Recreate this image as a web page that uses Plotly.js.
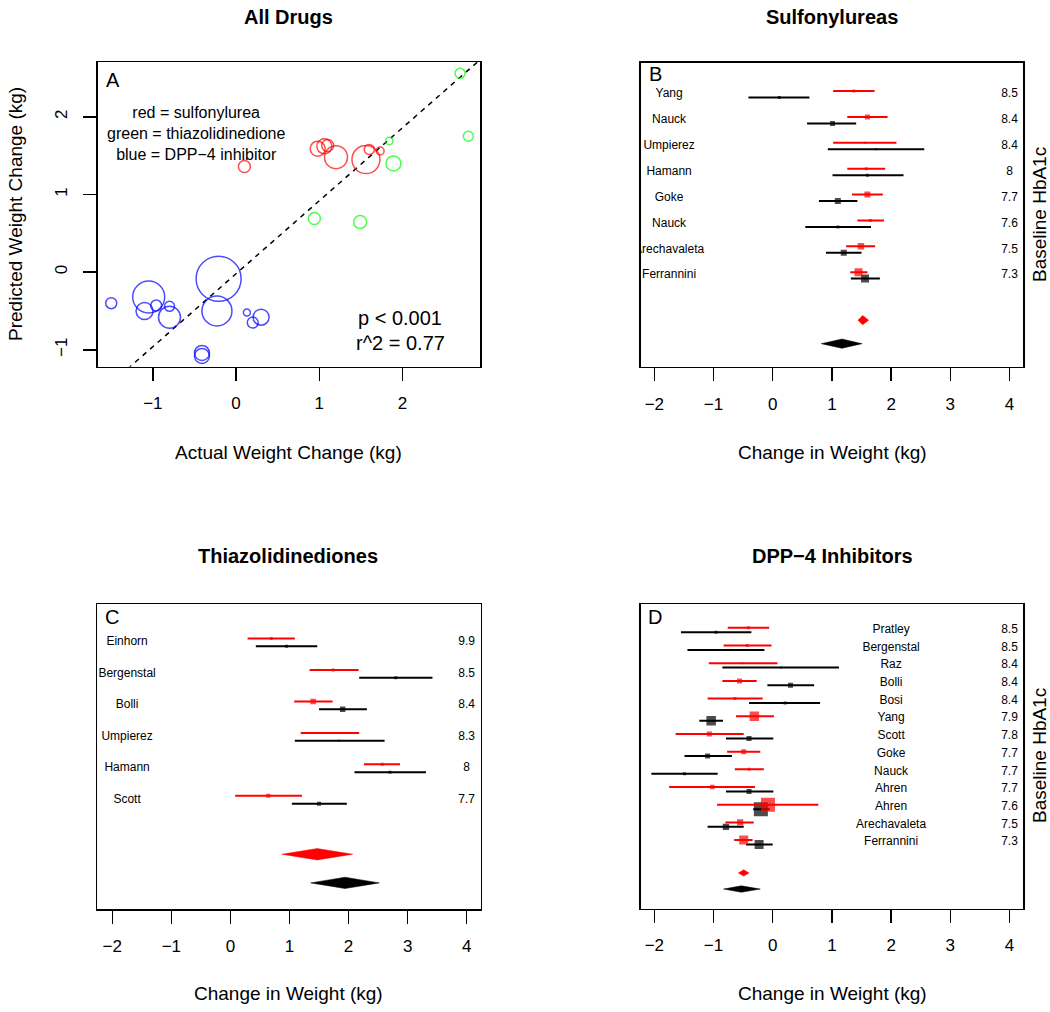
<!DOCTYPE html>
<html>
<head>
<meta charset="utf-8">
<script src="https://cdn.plot.ly/plotly-3.0.1.min.js"></script>
<style>
html,body{margin:0;padding:0;background:#fff;}
#chart{width:1050px;height:1012px;}
</style>
</head>
<body>
<div id="chart"></div>
<script>
// ---------------- Panel A: All drugs (actual vs predicted weight change) ----------------
const sulfActual    = [0.10, 0.98, 1.06, 1.10, 1.20, 1.56, 1.60, 1.73];
const sulfPredicted = [1.36, 1.59, 1.62, 1.63, 1.48, 1.45, 1.58, 1.56];
const sulfWeight    = [12, 15, 15, 12, 23, 28, 10, 8];

const tzdActual     = [2.69, 2.79, 1.84, 1.89, 0.94, 1.49];
const tzdPredicted  = [2.56, 1.75, 1.69, 1.40, 0.69, 0.645];
const tzdWeight     = [10, 10, 7.5, 15, 12, 13];

const dppActual     = [-1.50, -1.05, -1.10, -0.96, -0.80, -0.80, -0.21, -0.23, -0.41, -0.41, 0.13, 0.20, 0.30];
const dppPredicted  = [-0.40, -0.32, -0.50, -0.43, -0.44, -0.58, -0.085, -0.50, -1.04, -1.08, -0.52, -0.65, -0.58];
const dppWeight     = [11, 32, 17, 11, 10, 22, 45, 30, 15, 15, 7, 11, 16];

const fitIntercept = -0.02;
const fitSlope = 0.94;
const statsLines = ["p < 0.001", "r^2 = 0.77"];
const colorKey = ["red = sulfonylurea", "green = thiazolidinedione", "blue = DPP\u22124 inhibitor"];

// ---------------- Panel B: Sulfonylureas ----------------
const suStudies = ["Yang","Nauck","Umpierez","Hamann","Goke","Nauck","Arechavaleta","Ferrannini"];
const suHbA1c   = ["8.5","8.4","8.4","8","7.7","7.6","7.5","7.3"];
const suRedEst  = [1.37, 1.60, 1.56, 1.58, 1.60, 1.65, 1.49, 1.45];
const suRedLo   = [1.02, 1.26, 1.02, 1.26, 1.34, 1.43, 1.24, 1.31];
const suRedHi   = [1.72, 1.94, 2.09, 1.90, 1.86, 1.88, 1.73, 1.60];
const suRedSize = [3, 5, 2, 3, 6, 3, 6.5, 8];
const suBlkEst  = [0.11, 1.01, 1.74, 1.60, 1.10, 1.10, 1.20, 1.56];
const suBlkLo   = [-0.41, 0.58, 0.93, 1.01, 0.78, 0.55, 0.90, 1.32];
const suBlkHi   = [0.62, 1.41, 2.56, 2.21, 1.43, 1.66, 1.50, 1.81];
const suBlkSize = [3, 5, 2, 3, 6, 3, 6, 8];
const suPooledRed = [1.44, 1.52, 1.62];   // lo, est, hi
const suPooledBlk = [0.82, 1.17, 1.51];

// ---------------- Panel C: Thiazolidinediones ----------------
const tzStudies = ["Einhorn","Bergenstal","Bolli","Umpierez","Hamann","Scott"];
const tzHbA1c   = ["9.9","8.5","8.4","8.3","8","7.7"];
const tzRedEst  = [0.69, 1.74, 1.40, 1.69, 2.57, 0.64];
const tzRedLo   = [0.29, 1.34, 1.08, 1.19, 2.26, 0.08];
const tzRedHi   = [1.09, 2.17, 1.73, 2.18, 2.87, 1.21];
const tzRedSize = [3, 3, 5.5, 2, 3, 4];
const tzBlkEst  = [0.95, 2.80, 1.90, 1.84, 2.70, 1.50];
const tzBlkLo   = [0.43, 2.18, 1.50, 1.09, 2.10, 1.04];
const tzBlkHi   = [1.47, 3.42, 2.31, 2.61, 3.31, 1.97];
const tzBlkSize = [3, 3, 5.5, 2, 3, 4];
const tzPooledRed = [0.87, 1.47, 2.07];
const tzPooledBlk = [1.36, 1.94, 2.52];

// ---------------- Panel D: DPP-4 inhibitors ----------------
const dpStudies = ["Pratley","Bergenstal","Raz","Bolli","Bosi","Yang","Scott","Goke","Nauck","Ahren","Ahren","Arechavaleta","Ferrannini"];
const dpHbA1c   = ["8.5","8.5","8.4","8.4","8.4","7.9","7.8","7.7","7.7","7.7","7.6","7.5","7.3"];
const dpRedEst  = [-0.41, -0.43, -0.51, -0.56, -0.64, -0.31, -1.07, -0.49, -0.40, -1.02, -0.08, -0.55, -0.49];
const dpRedLo   = [-0.76, -0.83, -1.08, -0.85, -1.10, -0.62, -1.64, -0.77, -0.64, -1.75, -0.94, -0.80, -0.65];
const dpRedHi   = [-0.06, -0.02, 0.08, -0.27, -0.17, 0.02, -0.49, -0.21, -0.15, -0.30, 0.77, -0.32, -0.34];
const dpRedSize = [3, 3, 2, 5, 3, 9.5, 5, 5, 3, 4.5, 14, 6.3, 9];
const dpBlkEst  = [-0.96, -0.79, 0.14, 0.30, 0.21, -1.04, -0.40, -1.10, -1.49, -0.40, -0.20, -0.79, -0.23];
const dpBlkLo   = [-1.55, -1.44, -0.85, -0.09, -0.40, -1.24, -0.79, -1.49, -2.05, -0.79, -0.33, -1.10, -0.45];
const dpBlkHi   = [-0.36, -0.14, 1.12, 0.70, 0.80, -0.84, 0.01, -0.69, -0.93, 0.01, -0.05, -0.49, 0.00];
const dpBlkSize = [3, 2, 2, 5, 3, 9.5, 5, 5, 3, 5, 14, 6.3, 9];
const dpPooledRed = [-0.58, -0.49, -0.40];
const dpPooledBlk = [-0.83, -0.53, -0.21];

const xTicksA = [-1, 0, 1, 2];
const yTicksA = [-1, 0, 1, 2];
const xTicksForest = [-2, -1, 0, 1, 2, 3, 4];

// ---------------- Build ----------------
const FONT = "Liberation Sans, Arial, Helvetica, sans-serif";
const W = 1050, H = 1012;
const px = v => v / W;
const py = v => 1 - v / H;
const RED = "#FF0000", BLK = "#000000";

const traces = [];

function circles(x, y, s, color) {
  traces.push({
    type: "scatter", mode: "markers", x: x, y: y, xaxis: "x", yaxis: "y",
    marker: {symbol: "circle-open", size: s, color: color, line: {color: color, width: 1.5}},
    hoverinfo: "skip", showlegend: false
  });
}
// fit line across the axis range
const xrA = [-1.665, 2.93];
traces.push({
  type: "scatter", mode: "lines", xaxis: "x", yaxis: "y",
  x: xrA, y: xrA.map(v => fitIntercept + fitSlope * v),
  line: {color: BLK, width: 1.5, dash: "5px,5px"}, hoverinfo: "skip", showlegend: false
});
circles(sulfActual, sulfPredicted, sulfWeight, RED);
circles(tzdActual, tzdPredicted, tzdWeight, "#00FF00");
circles(dppActual, dppPredicted, dppWeight, "#0000FF");

const OFF = 0.125, DH = 0.18;
const RED_DIAMOND_Y = -0.73, BLK_DIAMOND_Y = -1.64;

function forest(ax, studies, hba, rEst, rLo, rHi, rSize, bEst, bLo, bHi, bSize, pRed, pBlk, nameX) {
  const n = studies.length;
  const rows = studies.map((_, i) => n - i);
  const xa = "x" + ax, ya = "y" + ax;
  function segs(lo, hi, off, color) {
    const x = [], y = [];
    lo.forEach((l, i) => { x.push(l, hi[i], null); y.push(rows[i] + off, rows[i] + off, null); });
    traces.push({type: "scatter", mode: "lines", x: x, y: y, xaxis: xa, yaxis: ya,
      line: {color: color, width: 2}, hoverinfo: "skip", showlegend: false});
  }
  function pts(est, size, off, color) {
    traces.push({type: "scatter", mode: "markers", x: est, y: rows.map(r => r + off), xaxis: xa, yaxis: ya,
      marker: {symbol: "square", size: size, color: color, line: {width: 0}}, hoverinfo: "skip", showlegend: false});
  }
  function diamond(p, yc, color) {
    traces.push({type: "scatter", mode: "lines", xaxis: xa, yaxis: ya,
      x: [p[0], p[1], p[2], p[1], p[0]], y: [yc, yc + DH, yc, yc - DH, yc],
      fill: "toself", fillcolor: color, line: {color: color, width: 0.5}, hoverinfo: "skip", showlegend: false});
  }
  segs(bLo, bHi, -OFF, BLK); pts(bEst, bSize, -OFF, BLK);
  segs(rLo, rHi, OFF, RED); pts(rEst, rSize, OFF, RED);
  diamond(pRed, RED_DIAMOND_Y, RED);
  diamond(pBlk, BLK_DIAMOND_Y, BLK);
  traces.push({type: "scatter", mode: "text", x: rows.map(() => nameX), y: rows, text: studies, xaxis: xa, yaxis: ya,
    textposition: "middle center", textfont: {family: FONT, size: 12, color: BLK}, hoverinfo: "skip", showlegend: false});
  traces.push({type: "scatter", mode: "text", x: rows.map(() => 4), y: rows, text: hba, xaxis: xa, yaxis: ya,
    textposition: "middle center", textfont: {family: FONT, size: 12, color: BLK}, hoverinfo: "skip", showlegend: false});
}
forest("2", suStudies, suHbA1c, suRedEst, suRedLo, suRedHi, suRedSize, suBlkEst, suBlkLo, suBlkHi, suBlkSize, suPooledRed, suPooledBlk, -1.75);
forest("3", tzStudies, tzHbA1c, tzRedEst, tzRedLo, tzRedHi, tzRedSize, tzBlkEst, tzBlkLo, tzBlkHi, tzBlkSize, tzPooledRed, tzPooledBlk, -1.75);
forest("4", dpStudies, dpHbA1c, dpRedEst, dpRedLo, dpRedHi, dpRedSize, dpBlkEst, dpBlkLo, dpBlkHi, dpBlkSize, dpPooledRed, dpPooledBlk, 2.0);

function xax(domL, domR, range, ticks, anchor) {
  return {domain: [px(domL), px(domR)], range: range, anchor: anchor, tickvals: ticks,
    ticks: "outside", ticklen: 13, tickwidth: 1.5, tickcolor: BLK, ticklabelstandoff: 8,
    showline: true, linecolor: BLK, linewidth: 1.5, mirror: true, showgrid: false, zeroline: false,
    tickfont: {family: FONT, size: 17, color: BLK}, fixedrange: true};
}
function yax(top, bot, range, anchor, ticks) {
  const o = {domain: [py(bot), py(top)], range: range, anchor: anchor,
    showline: true, linecolor: BLK, linewidth: 1.5, mirror: true, showgrid: false, zeroline: false, fixedrange: true};
  if (ticks) {
    Object.assign(o, {tickvals: ticks, ticks: "outside", ticklen: 13, tickwidth: 1.5, tickcolor: BLK, tickangle: -90,
      ticklabelstandoff: 9, tickfont: {family: FONT, size: 17, color: BLK}});
  } else {
    Object.assign(o, {showticklabels: false, ticks: ""});
  }
  return o;
}

const ann = [];
function txt(t, x, y, size, opts) {
  ann.push(Object.assign({text: t, x: px(x), y: py(y), xref: "paper", yref: "paper", showarrow: false,
    xanchor: "center", yanchor: "middle", font: {family: FONT, size: size, color: BLK}}, opts || {}));
}
// titles
txt("<b>All Drugs</b>", 288, 17, 20);
txt("<b>Sulfonylureas</b>", 832, 17, 20);
txt("<b>Thiazolidinediones</b>", 288, 556, 20);
txt("<b>DPP\u22124 Inhibitors</b>", 832, 556, 20);
// axis titles
txt("Actual Weight Change (kg)", 288, 452, 19);
txt("Change in Weight (kg)", 832, 452, 19);
txt("Change in Weight (kg)", 288, 993, 19);
txt("Change in Weight (kg)", 832, 993, 19);
txt("Predicted Weight Change (kg)", 15, 214, 19, {textangle: -90});
txt("Baseline HbA1c", 1039, 215, 19, {textangle: -90});
txt("Baseline HbA1c", 1039, 756, 19, {textangle: -90});
// panel letters
txt("A", 113, 80, 20);
txt("B", 655, 74, 20);
txt("C", 112, 617, 20);
txt("D", 655, 617, 20);
// key (one centred block) and stats in panel A
txt(colorKey.join("<br>"), 196, 133.5, 16, {align: "center"});
const statY = [318, 343];
statsLines.forEach((t, i) => txt(t, 400, statY[i], 20));

const layout = {
  width: W, height: H, margin: {l: 0, r: 0, t: 0, b: 0},
  paper_bgcolor: "#fff", plot_bgcolor: "#fff", showlegend: false,
  font: {family: FONT, color: BLK},
  xaxis: xax(97.5, 480, xrA, xTicksA, "y"),
  yaxis: yax(62, 366.5, [-1.215, 2.706], "x", yTicksA),
  xaxis2: xax(640.7, 1023.3, [-2.23, 4.233], xTicksForest, "y2"),
  yaxis2: yax(62.5, 366.7, [-2.53, 9.23], "x2"),
  xaxis3: xax(97.3, 480.7, [-2.254, 4.237], xTicksForest, "y3"),
  yaxis3: yax(604, 909, [-2.47, 7.22], "x3"),
  xaxis4: xax(640.7, 1023.3, [-2.23, 4.233], xTicksForest, "y4"),
  yaxis4: yax(604, 908.5, [-2.74, 14.47], "x4"),
  annotations: ann
};
Plotly.newPlot("chart", traces, layout, {staticPlot: true, displayModeBar: false});
</script>
</body>
</html>
